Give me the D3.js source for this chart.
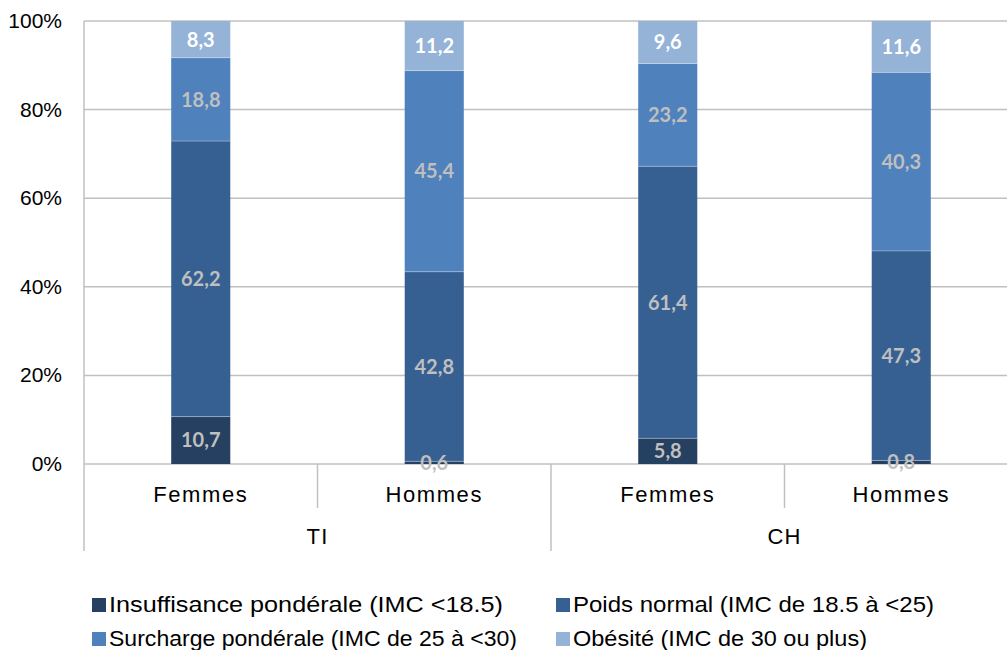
<!DOCTYPE html>
<html>
<head>
<meta charset="utf-8">
<script src="https://cdn.jsdelivr.net/npm/d3@7"></script>
<style>
  html, body { margin: 0; padding: 0; background: #ffffff; }
  svg { display: block; }
</style>
</head>
<body>
<svg id="chart" width="1007" height="650"></svg>
<script>
// Categories (inner level) and groups (outer level) of the x axis
const categories = ["Femmes", "Hommes", "Femmes", "Hommes"];
const groups = ["TI", "TI", "CH", "CH"];
const groupNames = ["TI", "CH"];

// Series (percent of each category)
const seriesNames = [
  "Insuffisance pondérale (IMC <18.5)",
  "Poids normal (IMC de 18.5 à <25)",
  "Surcharge pondérale (IMC de 25 à <30)",
  "Obésité (IMC de 30 ou plus)"
];
const insuffisance = [10.7, 0.6, 5.8, 0.8];
const poidsNormal  = [62.2, 42.8, 61.4, 47.3];
const surcharge    = [18.8, 45.4, 23.2, 40.3];
const obesite      = [8.3, 11.2, 9.6, 11.6];

// Y axis ticks
const yTicks = [0, 20, 40, 60, 80, 100];
const yTickLabels = ["0%", "20%", "40%", "60%", "80%", "100%"];

const colors = ["#254061", "#376092", "#4F81BD", "#95B3D7"];
const labelColors = ["#BFBFBF", "#BFBFBF", "#BFBFBF", "#FFFFFF"];

const svg = d3.select("#chart");

const plot = { left: 84, right: 1018, top: 21, bottom: 464 };

const x = d3.scaleBand()
  .domain(d3.range(categories.length))
  .range([plot.left, plot.right])
  .paddingInner(0).paddingOuter(0);

const y = d3.scaleLinear().domain([0, 100]).range([plot.bottom, plot.top]);

const barWidth = x.bandwidth() * 0.253;

// Build rows for stacking
const rows = categories.map((c, i) => ({
  idx: i,
  s0: insuffisance[i], s1: poidsNormal[i], s2: surcharge[i], s3: obesite[i]
}));
const keys = ["s0", "s1", "s2", "s3"];
const stacked = d3.stack().keys(keys)(rows);

const gridColor = "#C0C0C0";

// Horizontal gridlines
svg.append("g").selectAll("line")
  .data(yTicks)
  .join("line")
  .attr("x1", plot.left).attr("x2", plot.right)
  .attr("y1", d => y(d)).attr("y2", d => y(d))
  .attr("stroke", gridColor).attr("stroke-width", 1.5);

// Y tick labels
svg.append("g").selectAll("text")
  .data(yTicks)
  .join("text")
  .attr("x", 62)
  .attr("y", d => y(d) + 7)
  .attr("text-anchor", "end")
  .attr("font-family", "'Liberation Sans', Arial, sans-serif")
  .attr("font-size", 21)
  .attr("fill", "#000")
  .text((d, i) => yTickLabels[i]);

// Left axis line (extends through the category label rows)
svg.append("line")
  .attr("x1", plot.left).attr("x2", plot.left)
  .attr("y1", plot.top).attr("y2", 551)
  .attr("stroke", gridColor).attr("stroke-width", 1.5);

// Separators between categories within a group and between groups
const sepG = svg.append("g");
d3.range(1, categories.length).forEach(i => {
  const xx = x(i);
  const isGroupBoundary = groups[i] !== groups[i - 1];
  sepG.append("line")
    .attr("x1", xx).attr("x2", xx)
    .attr("y1", plot.bottom).attr("y2", isGroupBoundary ? 551 : 508)
    .attr("stroke", gridColor).attr("stroke-width", 1.5);
});

// Stacked bars
const barsG = svg.append("g");
stacked.forEach((layer, si) => {
  barsG.selectAll(null)
    .data(layer)
    .join("rect")
    .attr("x", d => x(d.data.idx) + x.bandwidth() / 2 - barWidth / 2)
    .attr("width", barWidth)
    .attr("y", d => y(d[1]))
    .attr("height", d => y(d[0]) - y(d[1]))
    .attr("fill", colors[si]);
});

// Segment boundaries (thin light lines between stacked segments)
stacked.slice(1).forEach(layer => {
  barsG.selectAll(null)
    .data(layer)
    .join("line")
    .attr("x1", d => x(d.data.idx) + x.bandwidth() / 2 - barWidth / 2)
    .attr("x2", d => x(d.data.idx) + x.bandwidth() / 2 + barWidth / 2)
    .attr("y1", d => y(d[0])).attr("y2", d => y(d[0]))
    .attr("stroke", "rgba(255,255,255,0.3)").attr("stroke-width", 1);
});

// Category labels
svg.append("g").selectAll("text")
  .data(categories)
  .join("text")
  .attr("x", (d, i) => x(i) + x.bandwidth() / 2)
  .attr("y", 502)
  .attr("text-anchor", "middle")
  .attr("font-family", "'Liberation Sans', Arial, sans-serif")
  .attr("font-size", 22)
  .attr("letter-spacing", 1.6)
  .attr("fill", "#000")
  .text(d => d);

// Group labels
groupNames.forEach(g => {
  const idxs = d3.range(categories.length).filter(i => groups[i] === g);
  const x0 = x(idxs[0]);
  const x1 = x(idxs[idxs.length - 1]) + x.bandwidth();
  svg.append("text")
    .attr("x", (x0 + x1) / 2)
    .attr("y", 544)
    .attr("text-anchor", "middle")
    .attr("font-family", "'Liberation Sans', Arial, sans-serif")
    .attr("font-size", 22)
    .attr("letter-spacing", 1.2)
    .attr("fill", "#000")
    .text(g);
});

// Value labels on segments
const labelsG = svg.append("g");
stacked.forEach((layer, si) => {
  labelsG.selectAll(null)
    .data(layer)
    .join("text")
    .attr("x", d => x(d.data.idx) + x.bandwidth() / 2)
    .attr("y", d => (y(d[0]) + y(d[1])) / 2)
    .attr("dy", "0.36em")
    .attr("text-anchor", "middle")
    .attr("font-family", "Lato, 'Open Sans', sans-serif")
    .attr("font-weight", "bold")
    .attr("font-size", 20)
    .attr("fill", labelColors[si])
    .text(d => d3.format(".1f")(d[1] - d[0]).replace(".", ","));
});

// Legend (two columns, two rows)
const legendPos = [
  { x: 92, y: 598, w: 394 },
  { x: 556, y: 598, w: 361 },
  { x: 92, y: 632, w: 408 },
  { x: 556, y: 632, w: 294 }
];
const legendG = svg.append("g");
seriesNames.forEach((name, i) => {
  const p = legendPos[i];
  legendG.append("rect")
    .attr("x", p.x).attr("y", p.y)
    .attr("width", 14).attr("height", 14)
    .attr("fill", colors[i]);
  legendG.append("text")
    .attr("x", p.x + 17)
    .attr("y", p.y + 14)
    .attr("font-family", "'Liberation Sans', Arial, sans-serif")
    .attr("font-size", 22)
    .attr("fill", "#000")
    .attr("textLength", p.w)
    .attr("lengthAdjust", "spacingAndGlyphs")
    .text(name);
});
</script>
</body>
</html>
